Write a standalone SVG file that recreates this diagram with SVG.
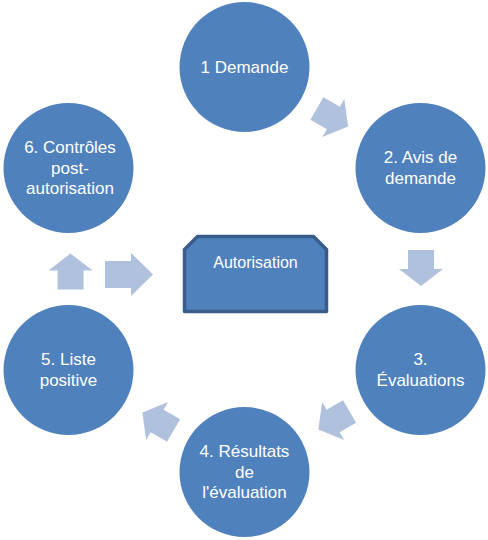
<svg xmlns="http://www.w3.org/2000/svg" xmlns:xlink="http://www.w3.org/1999/xlink" width="488" height="540" viewBox="0 0 488 540">
  <style>
    .node { fill: #4F81BD; }
    .lbl { font-family: "Liberation Sans", Arial, sans-serif; font-size: 17px; fill: #FFFFFF; text-anchor: middle; }
    .arrow { fill: #AFC1DD; }
    .box { fill: #4F81BD; stroke: #385D8A; stroke-width: 3.5; stroke-linejoin: round; }
  </style>
  <defs>
    <polygon id="arr" points="-18,-13 1,-13 1,-22 18,0 1,22 1,13 -18,13"/>
  </defs>
  <rect width="488" height="540" fill="#FFFFFF"/>
  <g id="connectors" class="arrow">
    <use xlink:href="#arr" transform="translate(332.5,117.5) rotate(30)"/>
    <use xlink:href="#arr" transform="translate(421,268) rotate(90)"/>
    <use xlink:href="#arr" transform="translate(334,420.5) rotate(150)"/>
    <use xlink:href="#arr" transform="translate(158,421.5) rotate(210)"/>
    <use xlink:href="#arr" transform="translate(70.5,271.5) rotate(-90)"/>
    <polygon points="105,261 131,261 131,253 153,274.5 131,296 131,288 105,288"/>
  </g>
  <g id="node-1">
    <circle class="node" cx="244.5" cy="67" r="65"/>
    <text class="lbl" x="244.5" y="73">1 Demande</text>
  </g>
  <g id="node-2">
    <circle class="node" cx="420.5" cy="168" r="65"/>
    <text class="lbl" x="420.5" y="163">2. Avis de</text>
    <text class="lbl" x="420.5" y="184">demande</text>
  </g>
  <g id="node-3">
    <circle class="node" cx="420.5" cy="370" r="65"/>
    <text class="lbl" x="420.5" y="365">3.</text>
    <text class="lbl" x="420.5" y="386">Évaluations</text>
  </g>
  <g id="node-4">
    <circle class="node" cx="244.5" cy="472" r="65"/>
    <text class="lbl" x="244.5" y="457">4. Résultats</text>
    <text class="lbl" x="244.5" y="477.5">de</text>
    <text class="lbl" x="244.5" y="498">l'évaluation</text>
  </g>
  <g id="node-5">
    <circle class="node" cx="68.5" cy="370" r="65"/>
    <text class="lbl" x="68.5" y="365">5. Liste</text>
    <text class="lbl" x="68.5" y="386">positive</text>
  </g>
  <g id="node-6">
    <circle class="node" cx="68.5" cy="168" r="65"/>
    <text class="lbl" x="70" y="153">6. Contrôles</text>
    <text class="lbl" x="70" y="173.5">post-</text>
    <text class="lbl" x="70" y="194">autorisation</text>
  </g>
  <g id="node-autorisation">
    <path class="box" d="M184.5,249.5 L197.5,236.5 L313.5,236.5 L326.5,249.5 L326.5,311.5 L184.5,311.5 Z"/>
    <text class="lbl" x="255.5" y="268" style="font-size:16px">Autorisation</text>
  </g>
</svg>
